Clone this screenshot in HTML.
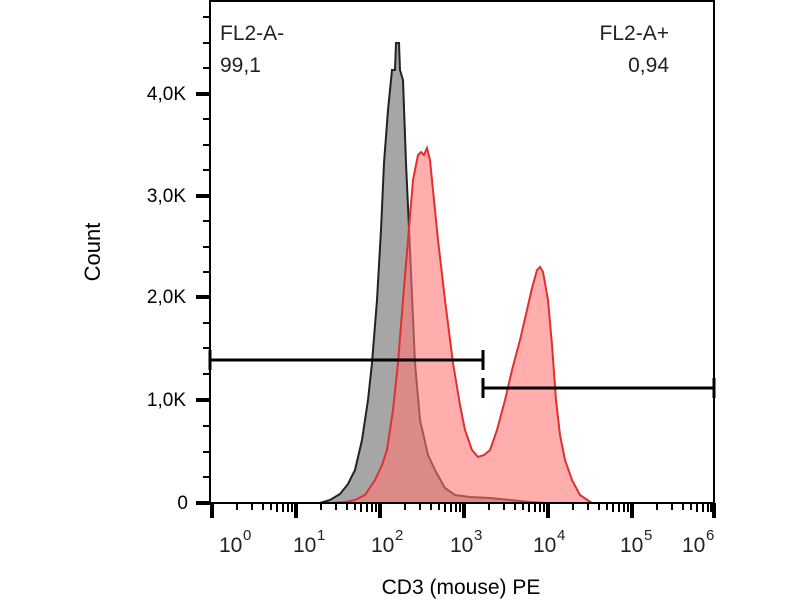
<!DOCTYPE html>
<html><head><style>
body{margin:0;background:#fff;}
svg text{font-family:"Liberation Sans",Arial,sans-serif;}
</style></head><body>
<svg width="800" height="600" viewBox="0 0 800 600" xmlns="http://www.w3.org/2000/svg">
<rect width="800" height="600" fill="#fff"/>
<path d="M320,503 L330,500 L340,494 L348,484 L355,470 L362,440 L368,400 L372,363 L377,300 L381,230 L384,163 L388,110 L392,70 L395,70 L396,43 L399,43 L400,70 L403,80 L406,163 L410,250 L415,363 L420,420 L428,455 L436,472 L445,488 L455,495 L470,497 L490,498 L510,500 L530,502 L545,503 Z" fill="#888" fill-opacity="0.75" stroke="#222" stroke-width="2"/>
<path d="M330,503 L345,502 L355,500 L365,495 L375,480 L382,465 L387,450 L393,410 L398,363 L403,300 L408,240 L413,180 L418,155 L421,152 L424,155 L427,148 L430,160 L434,200 L438,240 L445,300 L453,363 L460,405 L465,430 L472,450 L478,457 L484,455 L490,450 L497,430 L505,400 L512,370 L520,340 L527,310 L532,288 L537,270 L540,267 L543,272 L548,300 L552,345 L556,400 L560,435 L565,460 L572,480 L580,495 L592,503 Z" fill="#f77" fill-opacity="0.6" stroke="#e03030" stroke-width="2"/>
<line x1="210" y1="503" x2="714" y2="503" stroke="#e03030" stroke-width="2"/>
<rect x="210" y="1" width="504" height="502" fill="none" stroke="#000" stroke-width="2"/>
<g stroke="#000" stroke-width="3">
<line x1="210" y1="360" x2="483" y2="360"/><line x1="483" y1="350" x2="483" y2="370"/><line x1="210" y1="350" x2="210" y2="370"/>
<line x1="483" y1="388" x2="714" y2="388"/><line x1="483" y1="378" x2="483" y2="398"/><line x1="714" y1="378" x2="714" y2="398"/>
</g>
<g stroke="#000">
<line x1="196" y1="503" x2="210" y2="503" stroke-width="4"/>
<line x1="196" y1="400" x2="210" y2="400" stroke-width="4"/>
<line x1="196" y1="297" x2="210" y2="297" stroke-width="4"/>
<line x1="196" y1="196" x2="210" y2="196" stroke-width="4"/>
<line x1="196" y1="94" x2="210" y2="94" stroke-width="4"/>
<path stroke-width="2" d="M203,477H210M203,452H210M203,426H210M203,374H210M203,348H210M203,323H210M203,272H210M203,247H210M203,221H210M203,170H210M203,145H210M203,119H210M203,68H210M203,43H210M203,17H210"/>
<path stroke-width="4" d="M212,503V518M296,503V518M380,503V518M464,503V518M548,503V518M632,503V518M714,503V518"/>
<path stroke-width="2" d="M237,503V510M252,503V510M263,503V510M271,503V510M277,503V512M283,503V512M288,503V512M292,503V512
M321,503V510M336,503V510M347,503V510M355,503V510M361,503V512M367,503V512M372,503V512M376,503V512
M405,503V510M420,503V510M431,503V510M439,503V510M445,503V512M451,503V512M456,503V512M460,503V512
M489,503V510M504,503V510M515,503V510M523,503V510M529,503V512M535,503V512M540,503V512M544,503V512
M573,503V510M588,503V510M599,503V510M607,503V510M613,503V512M619,503V512M624,503V512M628,503V512
M657,503V510M672,503V510M683,503V510M691,503V510M697,503V512M703,503V512M708,503V512M711,503V512"/>
</g>
<g font-size="19" text-anchor="end" fill="#000">
<text x="188" y="509">0</text>
<text x="186" y="406">1,0K</text>
<text x="186" y="303">2,0K</text>
<text x="186" y="202">3,0K</text>
<text x="186" y="100">4,0K</text>
</g>
<text transform="translate(100,252) rotate(-90)" font-size="22" text-anchor="middle">Count</text>
<g font-size="21" fill="#222">
<text x="219" y="552">10</text><text x="243" y="540" font-size="15">0</text>
<text x="293" y="552">10</text><text x="317" y="540" font-size="15">1</text>
<text x="371" y="552">10</text><text x="395" y="540" font-size="15">2</text>
<text x="450" y="552">10</text><text x="474" y="540" font-size="15">3</text>
<text x="533" y="552">10</text><text x="557" y="540" font-size="15">4</text>
<text x="620" y="552">10</text><text x="644" y="540" font-size="15">5</text>
<text x="682" y="552">10</text><text x="706" y="540" font-size="15">6</text>
</g>
<text x="461" y="594" font-size="21" text-anchor="middle">CD3 (mouse) PE</text>
<g font-size="21" fill="#222">
<text x="220" y="40">FL2-A-</text>
<text x="220" y="72">99,1</text>
<text x="669" y="40" text-anchor="end">FL2-A+</text>
<text x="669" y="72" text-anchor="end">0,94</text>
</g>
</svg>
</body></html>
